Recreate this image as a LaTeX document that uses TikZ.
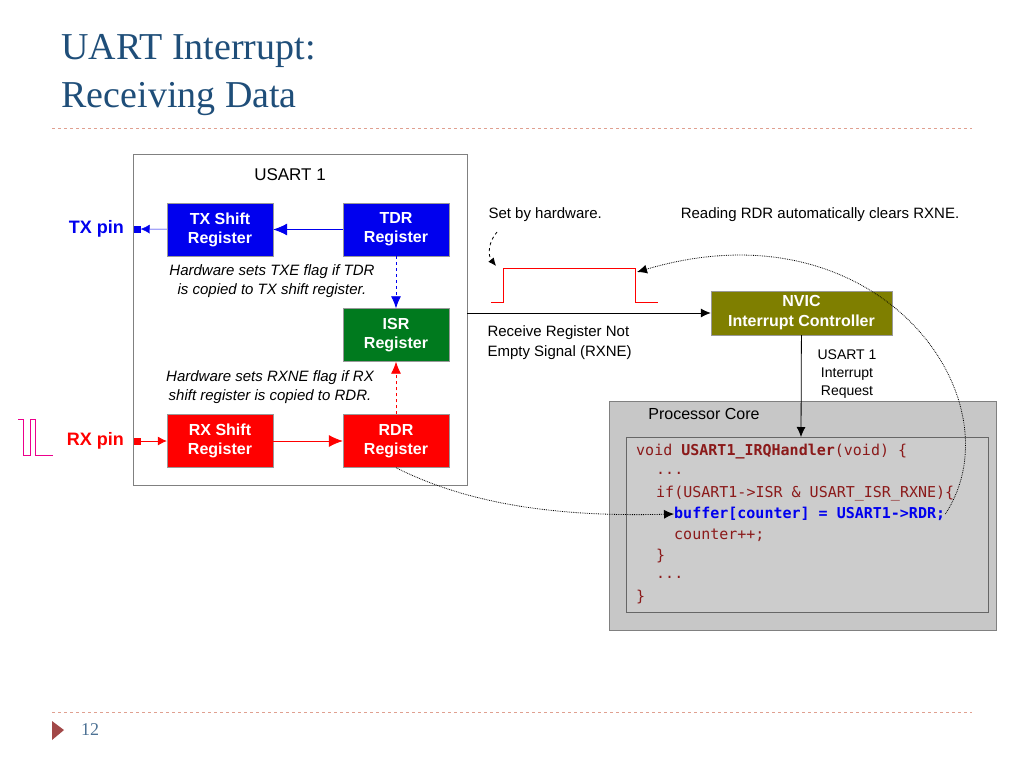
\documentclass[tikz,border=0pt]{standalone}
\usepackage{fontspec}
\setmainfont{Liberation Sans}
\newfontfamily\ttlfont{Liberation Serif}
\newfontfamily\codefont{DejaVu Sans Mono}
\usetikzlibrary{positioning,arrows.meta}
\definecolor{ttlblue}{HTML}{1F4E79}
\definecolor{rulered}{HTML}{E0A090}
\definecolor{codered}{HTML}{8B1A1A}
\definecolor{regblue}{HTML}{0000EE}
\definecolor{reggreen}{HTML}{007A1E}
\definecolor{olive}{HTML}{7F7F00}
\newcommand{\fs}[2]{\fontsize{#1}{#2}\selectfont}

\begin{document}
\begin{tikzpicture}[x=1pt,y=-1pt,
    reg/.style={draw=black!40,text=white,font=\fs{16}{19}\bfseries,align=center,
      minimum width=106pt,minimum height=53pt,inner sep=0pt},
    note/.style={font=\fs{15}{19}\itshape,align=center},
    lbl/.style={font=\fs{15}{20},align=left},
    code/.style={font=\fs{15}{18}\codefont,text=codered,anchor=west,inner sep=0pt}]
    \useasboundingbox (0,0) rectangle (1024,768);

    % title and rules
    \node[anchor=west,text=ttlblue,font=\fs{38}{48}\ttlfont,align=left] (ttl) at (58,75)
      {UART Interrupt:\\Receiving Data};
    \draw[rulered,dashed] (52,128) -- (972,128);
    \draw[rulered,dashed] (52,712) -- (972,712);
    \fill[codered!80] (52,721) -- (64,730) -- (52,740) -- cycle;
    \node[font=\fs{18}{20}\ttlfont,text=ttlblue!80] (pg) at (90,730) {12};

    % USART block
    \draw[black!50,fill=white] (133,154) rectangle (467,485);
    \node[font=\fs{17}{20}] (usart) at (290,175) {USART 1};
    \node[reg,fill=regblue] (txs) at (220,229.5) {TX Shift\\Register};
    \node[reg,fill=regblue] (tdr) at (396,229.5) {TDR\\Register};
    \node[reg,fill=reggreen] (isr) at (396,335) {ISR\\Register};
    \node[reg,fill=red] (rxs) at (220,441) {RX Shift\\Register};
    \node[reg,fill=red] (rdr) at (396,441) {RDR\\Register};

    \node[fill=regblue,minimum size=7pt,inner sep=0pt] (txp) at (137,229) {};
    \node[fill=red,minimum size=7pt,inner sep=0pt] (rxp) at (137,441) {};
    \node[text=regblue,font=\fs{18}{20}\bfseries,left=6pt of txp] (txpin) {TX pin};
    \node[text=red,font=\fs{18}{20}\bfseries,left=6pt of rxp] (rxpin) {RX pin};
    \draw[magenta,thick] (18,419) -- (23,419) -- (23,455) -- (30,455) -- (30,419)
      -- (35,419) -- (35,455) -- (53,455);

    \draw[regblue,-{Latex[length=9pt,width=9pt]}] (txs) -- (txp);
    \draw[regblue,thick,-{Latex[length=14pt,width=12pt]}] (tdr) -- (txs);
    \draw[red,thick,-{Latex[length=9pt,width=9pt]}] (rxp) -- (rxs);
    \draw[red,thick,-{Latex[length=14pt,width=12pt]}] (rxs) -- (rdr);
    \draw[regblue,thick,dashed,-{Latex[length=12pt,width=10pt]}] (tdr) -- (isr);
    \draw[red,thick,dashed,-{Latex[length=12pt,width=10pt]}] (rdr) -- (isr);

    \node[note] (txe) at (272,281) {Hardware sets TXE flag if TDR\\is copied to TX shift register.};
    \node[note] (rxne) at (270,387) {Hardware sets RXNE flag if RX\\shift register is copied to RDR.};

    % NVIC and signal
    \node[draw=black!40,fill=olive,text=white,font=\fs{16}{20}\bfseries,align=center,
      minimum width=181pt,minimum height=44pt,inner sep=0pt] (nvic) at (801.5,313)
      {NVIC\\Interrupt Controller};
    \coordinate (sig) at (467,313);
    \draw[thick,-{Latex[length=10pt,width=9pt]}] (sig) -- (nvic);
    \draw[red,thick] (491,302) -- (503,302) -- (503,268) -- (635,268) -- (635,302) -- (658,302);
    \node[lbl,anchor=west] (setby) at (485,215) {Set by hardware.};
    \node[lbl] (clears) at (820,215) {Reading RDR automatically clears RXNE.};
    \node[lbl,anchor=north west] (rxsig) at (484,322) {Receive Register Not\\Empty Signal (RXNE)};
    \node[font=\fs{14}{18},align=center] (req) at (847,374) {USART 1\\Interrupt\\Request};
    \coordinate (setA) at (497,232);
    \coordinate (setB) at (496,266);
    \draw[thick,dashed,-{Latex[length=8pt,width=7pt]}] (setA) to[bend right=40] (setB);

    % processor core
    \draw[black!50,fill=black!22] (609,401) rectangle (996,630);
    \node[font=\fs{16}{20}] (core) at (704,414) {Processor Core};
    \draw[black!60,fill=black!20] (626,437) rectangle (988,612);
    \coordinate (hdl) at (801,437);
    \draw[thick,-{Latex[length=10pt,width=9pt]}] (nvic) -- (hdl);

    \node[code] (c1) at (636,452) {void \textbf{USART1\_IRQHandler}(void) \{};
    \node[code] (c2) at (656,473) {...};
    \node[code] (c3) at (656,494) {if(USART1-{}>ISR \& USART\_ISR\_RXNE)\{};
    \node[code,text=regblue] (c4) at (674,514) {\textbf{buffer[counter] = USART1-{}>RDR;}};
    \node[code] (c5) at (674,535) {counter++;};
    \node[code] (c6) at (656,556) {\}};
    \node[code] (c7) at (656,577) {...};
    \node[code] (c8) at (636,597) {\}};

    % dotted flows
    \draw[thick,densely dotted,-{Latex[length=10pt,width=9pt]}] (rdr.south)
      .. controls (470,505) and (560,517) .. (c4.west);
    \draw[thick,densely dotted,-{Latex[length=10pt,width=9pt]}] (c4.east)
      .. controls (1020,400) and (880,200) .. (637,272);
\end{tikzpicture}
\end{document}
